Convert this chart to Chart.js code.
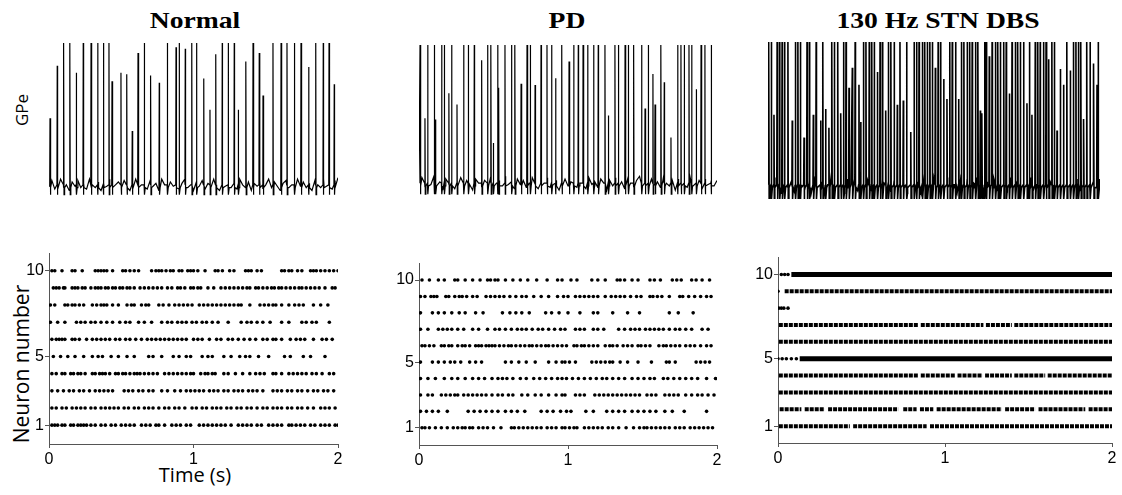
<!DOCTYPE html>
<html>
<head>
<meta charset="utf-8">
<script src="https://cdn.jsdelivr.net/npm/chart.js@4.4.1/dist/chart.umd.min.js"></script>
<style>
  body { margin: 0; width: 1122px; height: 495px; position: relative; overflow: hidden; background: #fff; }
  canvas { position: absolute; }
  .title { position: absolute; top: 8px; font: bold 24px "Liberation Serif", "Times New Roman", serif; line-height: 24px; white-space: nowrap; transform: translateX(-50%) scaleX(1.15); color: #000; }
  .lbl { position: absolute; font-family: "Open Sans", sans-serif; white-space: nowrap; color: #000; }
  .rot { transform: translate(-50%, -50%) rotate(-90deg); }
</style>
</head>
<body>
<div class="title" style="left:195px">Normal</div>
<div class="title" style="left:567px">PD</div>
<div class="title" style="left:938px">130 Hz STN DBS</div>
<div class="lbl rot" style="left:21px; top:110px; font-size:17px;">GPe</div>
<div class="lbl rot" style="left:21px; top:364px; font-size:21px;">Neuron number</div>
<div class="lbl" style="left:195px; top:474px; font-size:20px; transform:translate(-50%,-50%);">Time (s)</div>

<script>
// axis ticks
const xTicks = [0, 1, 2];
const yTicks = [1, 5, 10];

// GPe traces: spike times (s), partial spikes [time, fraction of full height], baseline samples over 0-2 s (mV)
const normalSpikes = [0.102, 0.145, 0.237, 0.291, 0.337, 0.376, 0.415, 0.660, 0.819, 0.902, 0.988, 1.022, 1.199, 1.241, 1.282, 1.412, 1.550, 1.606, 1.647, 1.698, 1.744, 1.846, 1.898, 1.938];
const normalPartial = [[0.007, 0.47], [0.057, 0.84], [0.189, 0.79], [0.436, 0.73], [0.498, 0.79], [0.538, 0.78], [0.576, 0.38], [0.616, 0.93], [0.704, 0.77], [0.763, 0.72], [0.879, 0.97], [0.943, 0.96], [1.071, 0.75], [1.114, 0.53], [1.154, 0.92], [1.310, 0.53], [1.363, 0.87], [1.455, 0.93], [1.481, 0.63], [1.797, 0.83], [1.974, 0.71]];
const normalBase = [-61, -57, -63, -59, -56, -62, -60, -64, -58, -61, -57, -62, -59, -63, -56, -60, -62, -58, -64, -59, -61, -56, -63, -60, -58, -62, -57, -61, -64, -59, -56, -62, -60, -58, -63, -57, -61, -59, -64, -56, -60, -62, -58, -61, -57, -63, -59, -56, -62, -60, -64, -58, -61, -57, -63, -59, -62, -56, -60, -64, -58, -61, -57, -62, -59, -63, -56, -60, -62, -58, -64, -59, -61, -57, -63, -60, -56, -62, -58, -61, -64, -59, -57, -62, -60, -63, -56, -61, -58, -62, -59, -64, -57, -60, -62, -56, -61, -59, -63, -57, -55];

const pdSpikes = [0.007, 0.058, 0.103, 0.152, 0.170, 0.219, 0.300, 0.331, 0.371, 0.461, 0.483, 0.528, 0.577, 0.622, 0.644, 0.725, 0.747, 0.819, 0.859, 0.890, 0.958, 1.038, 1.069, 1.101, 1.132, 1.172, 1.203, 1.248, 1.315, 1.338, 1.383, 1.405, 1.441, 1.494, 1.539, 1.624, 1.736, 1.758, 1.781, 1.812, 1.830, 1.893, 1.919, 1.960];
const pdPartial = [[0.040, 0.47], [0.112, 0.46], [0.201, 0.65], [0.255, 0.57], [0.421, 0.89], [0.499, 0.29], [0.535, 0.69], [0.685, 0.72], [0.779, 0.71], [0.917, 0.76], [1.007, 0.88], [1.271, 0.49], [1.517, 0.54], [1.570, 0.79], [1.584, 0.57], [1.646, 0.73], [1.691, 0.33], [1.861, 0.68]];
const pdBase = [-60, -56, -63, -58, -61, -55, -62, -59, -65, -57, -61, -58, -64, -60, -56, -62, -58, -61, -65, -57, -60, -63, -58, -61, -56, -64, -60, -58, -62, -55, -61, -59, -64, -57, -61, -58, -63, -60, -56, -61, -64, -58, -60, -56, -63, -61, -58, -65, -60, -57, -62, -59, -55, -63, -60, -58, -64, -56, -61, -59, -63, -57, -60, -65, -58, -62, -56, -61, -59, -64, -57, -60, -63, -58, -55, -62, -60, -64, -57, -61, -59, -63, -56, -60, -62, -58, -65, -57, -61, -59, -63, -56, -62, -60, -58, -64, -57, -61, -59, -62, -58];

const dbsSpikes = [0.005, 0.02, 0.055, 0.07, 0.085, 0.10, 0.12, 0.165, 0.18, 0.195, 0.235, 0.25, 0.29, 0.33, 0.385, 0.40, 0.42, 0.455, 0.47, 0.525, 0.575, 0.59, 0.61, 0.625, 0.64, 0.675, 0.69, 0.725, 0.74, 0.76, 0.795, 0.835, 0.88, 0.895, 0.91, 0.93, 0.945, 0.96, 0.975, 0.99, 1.025, 1.04, 1.095, 1.11, 1.13, 1.165, 1.18, 1.20, 1.215, 1.23, 1.25, 1.265, 1.305, 1.315, 1.35, 1.37, 1.385, 1.40, 1.42, 1.435, 1.47, 1.49, 1.505, 1.52, 1.54, 1.575, 1.61, 1.625, 1.64, 1.66, 1.675, 1.71, 1.725, 1.80, 1.84, 1.855, 1.87, 1.885, 1.92, 1.94, 1.99];
const dbsPartial = [[0.036, 0.49], [0.146, 0.45], [0.217, 0.33], [0.273, 0.49], [0.317, 0.45], [0.347, 0.53], [0.367, 0.40], [0.438, 0.50], [0.488, 0.68], [0.508, 0.82], [0.548, 0.70], [0.558, 0.44], [0.659, 0.79], [0.709, 0.52], [0.779, 0.56], [0.815, 0.59], [0.860, 0.37], [1.008, 0.82], [1.058, 0.74], [1.078, 0.60], [1.149, 0.60], [1.279, 0.52], [1.289, 0.50], [1.333, 0.90], [1.454, 0.64], [1.560, 0.57], [1.590, 0.49], [1.691, 0.88], [1.741, 0.38], [1.761, 0.81], [1.781, 0.70], [1.821, 0.80], [1.902, 0.46], [1.962, 0.85], [1.982, 0.70]];
const dbsBase = [-57, -63, -55, -61, -66, -56, -62, -58, -65, -55, -60, -64, -57, -66, -56, -62, -58, -65, -60, -55, -63, -57, -61, -66, -56, -60, -58, -64, -55, -62, -57, -63, -60, -66, -56, -59, -62, -65, -57, -55, -63, -60, -66, -56, -62, -58, -64, -57, -60, -63, -56, -61, -66, -58, -55, -63, -60, -65, -57, -62, -56, -64, -59, -55, -62, -66, -58, -61, -56, -64, -60, -57, -65, -55, -62, -59, -66, -57, -61, -55, -63, -60, -65, -56, -62, -58, -64, -55, -61, -66, -57, -63, -59, -56, -64, -60, -57, -65, -58, -62, -56];

// raster spike times (s), index 0 = neuron 1
const normalRaster = [
  [0.02, 0.04, 0.06, 0.09, 0.11, 0.15, 0.17, 0.20, 0.22, 0.24, 0.26, 0.29, 0.32, 0.36, 0.39, 0.43, 0.46, 0.50, 0.53, 0.56, 0.59, 0.64, 0.67, 0.70, 0.74, 0.76, 0.80, 0.85, 0.88, 0.91, 0.95, 0.98, 1.04, 1.07, 1.10, 1.13, 1.16, 1.19, 1.22, 1.26, 1.31, 1.34, 1.37, 1.40, 1.44, 1.47, 1.52, 1.55, 1.58, 1.61, 1.66, 1.68, 1.71, 1.74, 1.77, 1.81, 1.84, 1.88, 1.91, 1.94, 1.98, 2.00],
  [0.02, 0.05, 0.09, 0.12, 0.16, 0.19, 0.22, 0.25, 0.29, 0.32, 0.36, 0.39, 0.42, 0.45, 0.48, 0.52, 0.55, 0.59, 0.62, 0.66, 0.69, 0.72, 0.76, 0.80, 0.83, 0.87, 0.90, 0.94, 0.99, 1.02, 1.06, 1.09, 1.13, 1.16, 1.19, 1.23, 1.26, 1.30, 1.33, 1.37, 1.40, 1.44, 1.48, 1.51, 1.55, 1.58, 1.61, 1.65, 1.68, 1.72, 1.75, 1.79, 1.83, 1.88, 1.91, 1.94, 1.98],
  [0.02, 0.06, 0.10, 0.14, 0.17, 0.21, 0.24, 0.28, 0.32, 0.35, 0.38, 0.41, 0.44, 0.52, 0.55, 0.58, 0.62, 0.65, 0.69, 0.72, 0.78, 0.82, 0.87, 0.91, 0.95, 0.98, 1.01, 1.04, 1.07, 1.11, 1.14, 1.17, 1.21, 1.24, 1.28, 1.31, 1.34, 1.38, 1.41, 1.44, 1.48, 1.55, 1.58, 1.61, 1.65, 1.68, 1.72, 1.75, 1.79, 1.83, 1.86, 1.90, 1.93, 1.97],
  [0.02, 0.05, 0.09, 0.11, 0.15, 0.17, 0.20, 0.22, 0.25, 0.30, 0.32, 0.35, 0.37, 0.39, 0.42, 0.46, 0.48, 0.51, 0.53, 0.56, 0.59, 0.61, 0.63, 0.66, 0.69, 0.72, 0.75, 0.80, 0.83, 0.86, 0.89, 0.92, 0.95, 0.98, 1.00, 1.05, 1.08, 1.10, 1.13, 1.15, 1.21, 1.24, 1.29, 1.34, 1.39, 1.43, 1.46, 1.49, 1.55, 1.57, 1.61, 1.66, 1.69, 1.72, 1.75, 1.78, 1.82, 1.85, 1.89, 1.94, 1.97],
  [0.03, 0.08, 0.13, 0.18, 0.24, 0.30, 0.34, 0.37, 0.43, 0.48, 0.54, 0.59, 0.69, 0.72, 0.78, 0.86, 0.90, 0.95, 0.98, 1.06, 1.10, 1.13, 1.21, 1.26, 1.32, 1.36, 1.39, 1.45, 1.52, 1.63, 1.67, 1.76, 1.81, 1.91],
  [0.02, 0.05, 0.07, 0.09, 0.11, 0.16, 0.18, 0.21, 0.26, 0.30, 0.33, 0.36, 0.39, 0.42, 0.46, 0.49, 0.53, 0.56, 0.60, 0.64, 0.68, 0.71, 0.74, 0.77, 0.80, 0.83, 0.86, 0.89, 0.92, 0.95, 1.00, 1.03, 1.06, 1.11, 1.16, 1.19, 1.24, 1.27, 1.31, 1.35, 1.39, 1.43, 1.48, 1.51, 1.55, 1.57, 1.61, 1.67, 1.71, 1.74, 1.77, 1.83, 1.89, 1.92, 1.96],
  [0.01, 0.06, 0.11, 0.19, 0.22, 0.25, 0.29, 0.32, 0.36, 0.40, 0.44, 0.49, 0.53, 0.56, 0.62, 0.66, 0.71, 0.78, 0.82, 0.85, 0.89, 0.92, 0.95, 0.99, 1.02, 1.06, 1.09, 1.13, 1.17, 1.24, 1.33, 1.37, 1.40, 1.44, 1.48, 1.53, 1.61, 1.66, 1.75, 1.78, 1.82, 1.85, 1.94],
  [0.01, 0.04, 0.11, 0.13, 0.16, 0.18, 0.21, 0.24, 0.30, 0.33, 0.36, 0.38, 0.40, 0.44, 0.48, 0.54, 0.57, 0.59, 0.64, 0.67, 0.69, 0.76, 0.79, 0.83, 0.87, 0.90, 0.93, 0.96, 0.99, 1.04, 1.07, 1.10, 1.13, 1.16, 1.19, 1.22, 1.25, 1.28, 1.31, 1.33, 1.39, 1.46, 1.49, 1.52, 1.55, 1.57, 1.61, 1.66, 1.70, 1.73, 1.76, 1.83, 1.88, 1.93],
  [0.03, 0.05, 0.07, 0.10, 0.11, 0.16, 0.18, 0.20, 0.23, 0.25, 0.29, 0.32, 0.34, 0.36, 0.39, 0.41, 0.44, 0.46, 0.49, 0.51, 0.54, 0.56, 0.59, 0.63, 0.66, 0.69, 0.72, 0.75, 0.78, 0.82, 0.85, 0.89, 0.91, 0.94, 0.98, 1.00, 1.03, 1.05, 1.10, 1.14, 1.19, 1.22, 1.25, 1.28, 1.31, 1.34, 1.37, 1.39, 1.43, 1.45, 1.48, 1.51, 1.54, 1.56, 1.59, 1.61, 1.64, 1.67, 1.70, 1.73, 1.75, 1.78, 1.81, 1.84, 1.87, 1.91, 1.96, 1.98],
  [0.02, 0.04, 0.09, 0.16, 0.18, 0.23, 0.32, 0.34, 0.36, 0.38, 0.40, 0.44, 0.51, 0.53, 0.56, 0.59, 0.62, 0.71, 0.74, 0.76, 0.78, 0.81, 0.84, 0.86, 0.90, 0.92, 0.96, 0.98, 1.00, 1.03, 1.08, 1.15, 1.17, 1.20, 1.25, 1.28, 1.36, 1.38, 1.40, 1.44, 1.47, 1.61, 1.63, 1.66, 1.68, 1.72, 1.75, 1.81, 1.83, 1.85, 1.88, 1.91, 1.94, 1.97, 2.00]
];

const pdRaster = [
  [0.02, 0.04, 0.07, 0.11, 0.15, 0.19, 0.23, 0.26, 0.29, 0.31, 0.34, 0.36, 0.40, 0.43, 0.46, 0.50, 0.55, 0.62, 0.64, 0.67, 0.70, 0.73, 0.76, 0.79, 0.82, 0.86, 0.89, 0.92, 0.96, 0.98, 1.01, 1.04, 1.06, 1.11, 1.14, 1.17, 1.20, 1.23, 1.27, 1.30, 1.34, 1.39, 1.44, 1.48, 1.51, 1.53, 1.56, 1.59, 1.62, 1.65, 1.68, 1.72, 1.75, 1.78, 1.82, 1.85, 1.88, 1.91, 1.94, 1.97],
  [0.01, 0.05, 0.09, 0.13, 0.19, 0.33, 0.37, 0.41, 0.45, 0.49, 0.53, 0.58, 0.62, 0.66, 0.71, 0.82, 0.86, 0.90, 0.95, 0.99, 1.02, 1.12, 1.17, 1.26, 1.30, 1.34, 1.38, 1.43, 1.47, 1.51, 1.55, 1.59, 1.65, 1.70, 1.78, 1.93],
  [0.01, 0.06, 0.09, 0.15, 0.18, 0.21, 0.24, 0.26, 0.30, 0.33, 0.36, 0.39, 0.42, 0.45, 0.49, 0.53, 0.56, 0.60, 0.63, 0.69, 0.73, 0.78, 0.82, 0.87, 0.92, 0.96, 0.98, 1.05, 1.08, 1.11, 1.18, 1.21, 1.24, 1.27, 1.30, 1.33, 1.36, 1.39, 1.42, 1.45, 1.48, 1.53, 1.56, 1.59, 1.65, 1.68, 1.71, 1.74, 1.79, 1.83, 1.87, 1.90, 1.94, 1.98],
  [0.01, 0.06, 0.11, 0.17, 0.22, 0.26, 0.31, 0.36, 0.40, 0.44, 0.49, 0.53, 0.56, 0.59, 0.63, 0.68, 0.72, 0.77, 0.81, 0.85, 0.89, 0.93, 0.96, 0.99, 1.03, 1.07, 1.11, 1.15, 1.19, 1.23, 1.26, 1.30, 1.34, 1.38, 1.43, 1.47, 1.51, 1.55, 1.58, 1.64, 1.67, 1.71, 1.75, 1.79, 1.83, 1.87, 1.93, 1.99],
  [0.01, 0.09, 0.13, 0.17, 0.21, 0.24, 0.28, 0.34, 0.38, 0.42, 0.58, 0.62, 0.67, 0.72, 0.78, 0.87, 0.92, 0.96, 0.98, 1.01, 1.05, 1.16, 1.19, 1.22, 1.25, 1.28, 1.30, 1.35, 1.40, 1.47, 1.56, 1.66, 1.68, 1.72, 1.86, 1.89, 1.92, 1.95],
  [0.02, 0.04, 0.07, 0.10, 0.15, 0.17, 0.20, 0.22, 0.26, 0.29, 0.31, 0.34, 0.38, 0.40, 0.42, 0.45, 0.47, 0.49, 0.51, 0.54, 0.57, 0.60, 0.62, 0.65, 0.68, 0.71, 0.74, 0.76, 0.79, 0.82, 0.85, 0.87, 0.90, 0.93, 0.96, 0.99, 1.04, 1.06, 1.09, 1.11, 1.14, 1.17, 1.20, 1.25, 1.28, 1.30, 1.33, 1.37, 1.40, 1.43, 1.47, 1.49, 1.52, 1.55, 1.61, 1.64, 1.66, 1.69, 1.72, 1.75, 1.79, 1.82, 1.85, 1.89, 1.93, 1.96],
  [0.01, 0.06, 0.13, 0.16, 0.19, 0.22, 0.26, 0.30, 0.36, 0.40, 0.46, 0.51, 0.54, 0.58, 0.62, 0.66, 0.69, 0.72, 0.76, 0.80, 0.83, 0.87, 0.91, 0.95, 0.98, 1.05, 1.08, 1.11, 1.17, 1.20, 1.24, 1.34, 1.38, 1.42, 1.45, 1.48, 1.52, 1.55, 1.58, 1.61, 1.64, 1.68, 1.72, 1.75, 1.79, 1.83, 1.90, 1.94],
  [0.01, 0.09, 0.13, 0.17, 0.22, 0.27, 0.31, 0.38, 0.43, 0.56, 0.61, 0.65, 0.69, 0.74, 0.85, 0.89, 0.94, 1.00, 1.08, 1.17, 1.20, 1.30, 1.40, 1.48, 1.68, 1.74, 1.84],
  [0.01, 0.04, 0.08, 0.10, 0.12, 0.18, 0.20, 0.24, 0.27, 0.29, 0.32, 0.36, 0.39, 0.45, 0.48, 0.51, 0.54, 0.57, 0.61, 0.65, 0.69, 0.72, 0.77, 0.82, 0.87, 0.93, 0.97, 1.00, 1.05, 1.08, 1.11, 1.14, 1.17, 1.20, 1.25, 1.29, 1.32, 1.35, 1.38, 1.42, 1.46, 1.49, 1.55, 1.57, 1.60, 1.63, 1.68, 1.75, 1.77, 1.81, 1.85, 1.89, 1.93, 1.96],
  [0.02, 0.07, 0.13, 0.17, 0.24, 0.26, 0.31, 0.36, 0.41, 0.46, 0.48, 0.51, 0.53, 0.58, 0.63, 0.68, 0.73, 0.79, 0.86, 0.93, 0.96, 1.02, 1.06, 1.16, 1.20, 1.25, 1.33, 1.35, 1.38, 1.43, 1.47, 1.55, 1.58, 1.62, 1.70, 1.73, 1.76, 1.83, 1.86, 1.90, 1.95]
];

// DBS raster: near-continuous firing drawn as runs [neuron, start, end], plus isolated spikes [neuron, time]
const dbsSegments = [
  [10, 0.08, 2.0],
  [9, 0.04, 2.0],
  [7, 0.005, 0.84], [7, 0.855, 1.23], [7, 1.245, 1.40], [7, 1.415, 2.0],
  [6, 0.005, 2.0],
  [5, 0.13, 2.0],
  [4, 0.005, 0.84], [4, 0.855, 1.06], [4, 1.075, 1.225], [4, 1.24, 1.40], [4, 1.415, 1.60], [4, 1.615, 2.0],
  [3, 0.005, 2.0],
  [2, 0.01, 0.14], [2, 0.16, 0.28], [2, 0.30, 0.72], [2, 0.75, 0.83], [2, 0.85, 0.93], [2, 0.95, 1.34], [2, 1.36, 1.54], [2, 1.56, 1.84], [2, 1.86, 2.0],
  [1, 0.005, 0.43], [1, 0.45, 0.89], [1, 0.91, 2.0]
];
const dbsDots = [[10, 0.02], [10, 0.04], [10, 0.06], [9, 0.0], [8, 0.005], [8, 0.02], [8, 0.035], [8, 0.06], [5, 0.0], [5, 0.025], [5, 0.05], [5, 0.08], [5, 0.11]];
const dbsBoldRows = [10, 5];

const AXIS = '#555';
const REST = -60, PEAK = 40;

function addCanvas(left, top, w, h) {
  const c = document.createElement('canvas');
  c.width = w; c.height = h;
  c.style.left = left + 'px'; c.style.top = top + 'px';
  c.style.width = w + 'px'; c.style.height = h + 'px';
  document.body.appendChild(c);
  return c;
}

function trace(full, partial, base, ahp) {
  const spikes = full.map(t => [t, 1]).concat(partial);
  const dt = 2 / (base.length - 1);
  const pts = base.map((v, i) => ({ x: i * dt, y: v }));
  spikes.forEach(([t, h]) => {
    pts.push({ x: t - 0.002, y: REST }, { x: t, y: REST + h * (PEAK - REST) }, { x: t + 0.002, y: ahp }, { x: t + 0.006, y: REST - 2 });
  });
  return pts.sort((a, b) => a.x - b.x);
}

function traceChart(area, data, width) {
  const c = addCanvas(area.left, area.top, area.right - area.left, area.bottom - area.top);
  new Chart(c, {
    type: 'line',
    data: { datasets: [{ data, borderColor: '#000', borderWidth: width, pointRadius: 0, tension: 0 }] },
    options: {
      responsive: false, animation: false,
      layout: { padding: 0 },
      plugins: { legend: { display: false }, tooltip: { enabled: false } },
      scales: {
        x: { type: 'linear', min: 0, max: 2, display: false },
        y: { min: -70, max: 40, display: false }
      }
    }
  });
}

function rasterChart(area, yMin, datasets) {
  const padL = 40, padB = 34, padT = 10, padR = 14;
  const w = area.right - area.left, h = area.bottom - area.top;
  const c = addCanvas(area.left - padL, area.top - padT, w + padL + padR, h + padT + padB);
  const tickFont = { family: 'Liberation Sans', size: 16 };
  new Chart(c, {
    type: 'scatter',
    data: { datasets },
    options: {
      responsive: false, animation: false,
      layout: { padding: { top: padT, right: padR, left: 0, bottom: 0 } },
      plugins: { legend: { display: false }, tooltip: { enabled: false } },
      scales: {
        x: {
          type: 'linear', min: 0, max: 2,
          afterBuildTicks: s => { s.ticks = xTicks.map(v => ({ value: v })); },
          afterFit: s => { s.height = padB; },
          grid: { drawOnChartArea: false, tickLength: 4, color: AXIS },
          border: { color: AXIS, width: 1 },
          ticks: { color: '#000', padding: 2, maxRotation: 0, autoSkip: false, font: tickFont }
        },
        y: {
          type: 'linear', min: yMin, max: 11,
          afterBuildTicks: s => { s.ticks = yTicks.map(v => ({ value: v })); },
          afterFit: s => { s.width = padL; },
          grid: { drawOnChartArea: false, tickLength: 4, color: AXIS },
          border: { color: AXIS, width: 1 },
          ticks: { color: '#000', padding: 1, autoSkip: false, font: tickFont }
        }
      }
    }
  });
}

function dotSets(rows) {
  return rows.map((times, i) => ({
    data: times.map(t => ({ x: t, y: i + 1 })),
    pointRadius: 1.8, pointBorderWidth: 0, backgroundColor: '#000', pointHoverRadius: 0
  }));
}

// top row: GPe membrane potential
traceChart({ left: 49, right: 338, top: 43, bottom: 199 }, trace(normalSpikes, normalPartial, normalBase, -67), 1.2);
traceChart({ left: 419, right: 717, top: 45, bottom: 197 }, trace(pdSpikes, pdPartial, pdBase, -68), 1.2);
traceChart({ left: 768, right: 1100, top: 42, bottom: 199 }, trace(dbsSpikes, dbsPartial, dbsBase, -70), 1.6);

// bottom row: rasters
rasterChart({ left: 49, right: 338, top: 253, bottom: 444 }, -0.1, dotSets(normalRaster));
rasterChart({ left: 419, right: 717, top: 263, bottom: 445 }, -0.05, dotSets(pdRaster));

const dbsSets = dbsSegments.map(([row, a, b]) => {
  const bold = dbsBoldRows.includes(row);
  return {
    data: [{ x: a, y: row }, { x: b, y: row }],
    showLine: true, pointRadius: 0, borderColor: '#000',
    borderWidth: bold ? 5 : 4, borderDash: bold ? [] : [4, 1]
  };
});
dbsSets.push({
  data: dbsDots.map(([row, t]) => ({ x: t, y: row })),
  pointRadius: 1.8, pointBorderWidth: 0, backgroundColor: '#000'
});
rasterChart({ left: 778, right: 1112, top: 257, bottom: 443 }, 0, dbsSets);
</script>
</body>
</html>
